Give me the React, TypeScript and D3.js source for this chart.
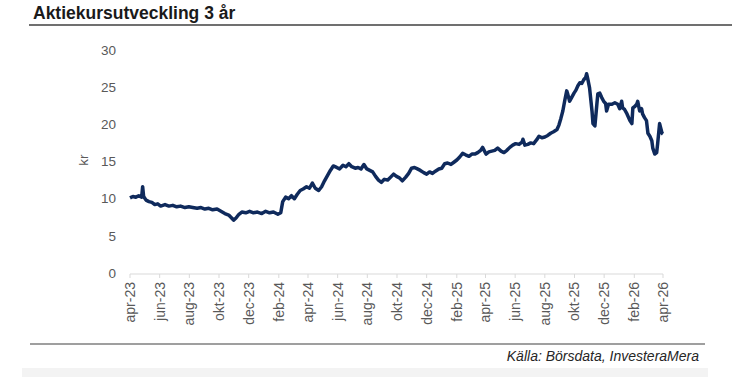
import React from "react";
import * as d3 from "d3";

const TITLE = "Aktiekursutveckling 3 år";
const SOURCE = "Källa: Börsdata, InvesteraMera";
const Y_LABEL = "kr";
const Y_TICKS = [0, 5, 10, 15, 20, 25, 30];
const MONTHS_SV = ["jan", "feb", "mar", "apr", "maj", "jun", "jul", "aug", "sep", "okt", "nov", "dec"];
const X_TICK_DATES = [
  "2023-04-01", "2023-06-01", "2023-08-01", "2023-10-01", "2023-12-01",
  "2024-02-01", "2024-04-01", "2024-06-01", "2024-08-01", "2024-10-01", "2024-12-01",
  "2025-02-01", "2025-04-01", "2025-06-01", "2025-08-01", "2025-10-01", "2025-12-01",
  "2026-02-01", "2026-04-01",
];

const DATES = [
  "2023-04-01", "2023-04-07", "2023-04-13", "2023-04-19", "2023-04-25", "2023-04-27", "2023-04-29",
  "2023-05-04", "2023-05-10", "2023-05-16", "2023-05-22", "2023-05-28", "2023-06-03", "2023-06-12",
  "2023-06-20", "2023-06-28", "2023-07-06", "2023-07-14", "2023-07-23", "2023-07-31", "2023-08-08",
  "2023-08-17", "2023-08-25", "2023-09-02", "2023-09-10", "2023-09-18", "2023-09-27", "2023-10-05",
  "2023-10-13", "2023-10-21", "2023-10-27", "2023-10-31", "2023-11-05", "2023-11-11", "2023-11-17",
  "2023-11-25", "2023-12-03", "2023-12-11", "2023-12-19", "2023-12-28", "2024-01-05", "2024-01-13",
  "2024-01-21", "2024-01-30", "2024-02-05", "2024-02-09", "2024-02-15", "2024-02-21", "2024-02-27",
  "2024-03-04", "2024-03-10", "2024-03-16", "2024-03-22", "2024-03-29", "2024-04-04", "2024-04-10",
  "2024-04-16", "2024-04-23", "2024-04-29", "2024-05-05", "2024-05-11", "2024-05-17", "2024-05-23",
  "2024-05-30", "2024-06-05", "2024-06-12", "2024-06-18", "2024-06-24", "2024-06-30", "2024-07-07",
  "2024-07-13", "2024-07-19", "2024-07-25", "2024-07-31", "2024-08-06", "2024-08-12", "2024-08-18",
  "2024-08-24", "2024-08-30", "2024-09-05", "2024-09-12", "2024-09-18", "2024-09-24", "2024-09-30",
  "2024-10-06", "2024-10-12", "2024-10-19", "2024-10-25", "2024-10-31", "2024-11-06", "2024-11-12",
  "2024-11-18", "2024-11-25", "2024-12-01", "2024-12-07", "2024-12-13", "2024-12-19", "2024-12-26",
  "2025-01-01", "2025-01-07", "2025-01-13", "2025-01-20", "2025-01-26", "2025-02-01", "2025-02-07",
  "2025-02-13", "2025-02-19", "2025-02-26", "2025-03-04", "2025-03-10", "2025-03-16", "2025-03-22",
  "2025-03-26", "2025-04-02", "2025-04-08", "2025-04-14", "2025-04-20", "2025-04-26", "2025-05-03",
  "2025-05-09", "2025-05-15", "2025-05-21", "2025-05-27", "2025-06-02", "2025-06-09", "2025-06-15",
  "2025-06-17", "2025-06-21", "2025-06-27", "2025-07-03", "2025-07-09", "2025-07-15", "2025-07-20",
  "2025-07-26", "2025-08-01", "2025-08-07", "2025-08-13", "2025-08-19", "2025-08-26", "2025-08-30",
  "2025-09-03", "2025-09-07", "2025-09-11", "2025-09-15", "2025-09-17", "2025-09-21", "2025-09-25",
  "2025-09-30", "2025-10-04", "2025-10-08", "2025-10-12", "2025-10-16", "2025-10-20", "2025-10-24",
  "2025-10-26", "2025-10-28", "2025-11-01", "2025-11-06", "2025-11-08", "2025-11-12", "2025-11-16",
  "2025-11-18", "2025-11-22", "2025-11-26", "2025-11-30", "2025-12-04", "2025-12-06", "2025-12-10",
  "2025-12-17", "2025-12-23", "2025-12-29", "2026-01-02", "2026-01-06", "2026-01-08", "2026-01-12",
  "2026-01-17", "2026-01-23", "2026-01-27", "2026-01-29", "2026-02-02", "2026-02-06", "2026-02-08",
  "2026-02-12", "2026-02-16", "2026-02-18", "2026-02-22", "2026-02-26", "2026-03-01", "2026-03-05",
  "2026-03-09", "2026-03-11", "2026-03-15", "2026-03-19", "2026-03-21", "2026-03-25", "2026-03-30",
  "2026-04-01",
];

const PRICES = [
  10.1, 10.3, 10.2, 10.4, 10.2, 11.6, 10.3,
  9.8, 9.6, 9.5, 9.2, 9.3, 9.0, 9.2,
  9.0, 9.1, 8.9, 9.0, 8.8, 8.9, 8.8,
  8.7, 8.8, 8.6, 8.7, 8.5, 8.6, 8.3,
  8.0, 7.8, 7.4, 7.1, 7.4, 7.9, 8.2,
  8.1, 8.3, 8.1, 8.2, 8.0, 8.3, 8.1,
  8.2, 7.9, 8.1, 9.6, 10.2, 10.0, 10.4,
  10.0, 10.6, 11.1, 11.3, 11.6, 11.4, 12.1,
  11.4, 11.1, 11.6, 12.4, 13.1, 13.8, 14.4,
  14.2, 14.0, 14.5, 14.3, 14.7, 14.3, 14.1,
  14.2, 14.0, 14.6, 14.0, 13.8, 13.6, 13.0,
  12.5, 12.2, 12.6, 12.5, 12.9, 13.3, 13.0,
  12.8, 12.4, 12.9, 13.4, 14.1, 14.2, 14.0,
  13.8, 13.5, 13.3, 13.6, 13.4, 13.7, 14.0,
  14.1, 14.7, 14.8, 14.6, 14.9, 15.2, 15.6,
  16.1, 15.9, 15.7, 16.0, 16.0, 16.2, 16.5,
  16.9, 16.0, 16.3, 16.4, 16.5, 16.8, 16.4,
  16.2, 16.5, 16.9, 17.2, 17.4, 17.3, 17.6,
  18.0, 17.2, 17.3, 17.5, 17.4, 17.9, 18.4,
  18.2, 18.3, 18.5, 18.8, 19.0, 19.3, 19.9,
  20.8, 21.8, 23.2, 24.5, 24.1, 23.1, 23.6,
  24.2, 24.6, 25.2, 25.6, 25.5, 26.0, 26.3,
  26.8, 26.2, 24.9, 21.8, 20.1, 19.8, 22.7,
  24.1, 24.2, 23.6, 23.1, 22.8, 21.8, 22.7,
  22.7, 22.9, 22.7, 22.1, 23.1, 22.2, 22.0,
  21.4, 20.5, 20.1, 22.2, 22.4, 22.7, 23.1,
  21.8, 22.1, 21.4, 20.9, 20.5, 18.8, 18.4,
  17.8, 16.8, 16.0, 16.2, 17.4, 20.1, 18.8,
  18.7,
];

const W = 732;
const H = 377;
const FONT = "'Liberation Sans', Arial, sans-serif";
const TEXT_GRAY = "#595959";
const LINE_COLOR = "#0f2a5c";

const parse = d3.timeParse("%Y-%m-%d");

export default function App() {
  const data = DATES.map((d, i) => ({ date: parse(d) as Date, value: PRICES[i] }));
  const x = d3
    .scaleTime()
    .domain([parse("2023-04-01") as Date, parse("2026-04-01") as Date])
    .range([130, 663]);
  const y = d3.scaleLinear().domain([0, 30]).range([273, 50]);
  const line = d3
    .line<{ date: Date; value: number }>()
    .x((d) => x(d.date))
    .y((d) => y(d.value));
  const fmt = (d: Date) => `${MONTHS_SV[d.getMonth()]}-${String(d.getFullYear()).slice(2)}`;
  const axisY = y(0) + 1;

  return (
    <svg
      width={W}
      height={H}
      style={{ position: "absolute", left: 0, top: 0, background: "#fff" }}
      fontFamily={FONT}
    >
      <rect x={0} y={0} width={W} height={H} fill="#fff" />
      <text x={33} y={19} fontSize={17.5} fontWeight="bold" fill="#1a1a1a">
        {TITLE}
      </text>
      <line x1={29} x2={W} y1={25} y2={25} stroke="#404040" strokeWidth={1.5} />

      {Y_TICKS.map((t) => (
        <text key={t} x={116} y={y(t)} dy="0.35em" textAnchor="end" fontSize={13.5} fill={TEXT_GRAY}>
          {t}
        </text>
      ))}
      <text
        transform={`translate(${83},${160}) rotate(-90)`}
        textAnchor="middle"
        dy="0.35em"
        fontSize={13.5}
        fill={TEXT_GRAY}
      >
        {Y_LABEL}
      </text>

      <line x1={x.range()[0]} x2={x.range()[1]} y1={axisY} y2={axisY} stroke="#d9d9d9" strokeWidth={1} />
      {X_TICK_DATES.map((s) => {
        const d = parse(s) as Date;
        const px = x(d);
        return (
          <g key={s}>
            <line x1={px} x2={px} y1={axisY} y2={axisY + 4} stroke="#d9d9d9" strokeWidth={1} />
            <text
              transform={`translate(${px + 5},${axisY + 8}) rotate(-90)`}
              textAnchor="end"
              fontSize={14}
              fill={TEXT_GRAY}
            >
              {fmt(d)}
            </text>
          </g>
        );
      })}

      <path d={line(data) || ""} fill="none" stroke={LINE_COLOR} strokeWidth={3.5} strokeLinejoin="round" />

      <line x1={30} x2={705} y1={344} y2={344} stroke="#7f7f7f" strokeWidth={1.5} />
      <text x={699} y={361} textAnchor="end" fontSize={14} fontStyle="italic" fill="#262626">
        {SOURCE}
      </text>
      <rect x={22} y={368} width={686} height={9} fill="#f3f3f3" />
    </svg>
  );
}
